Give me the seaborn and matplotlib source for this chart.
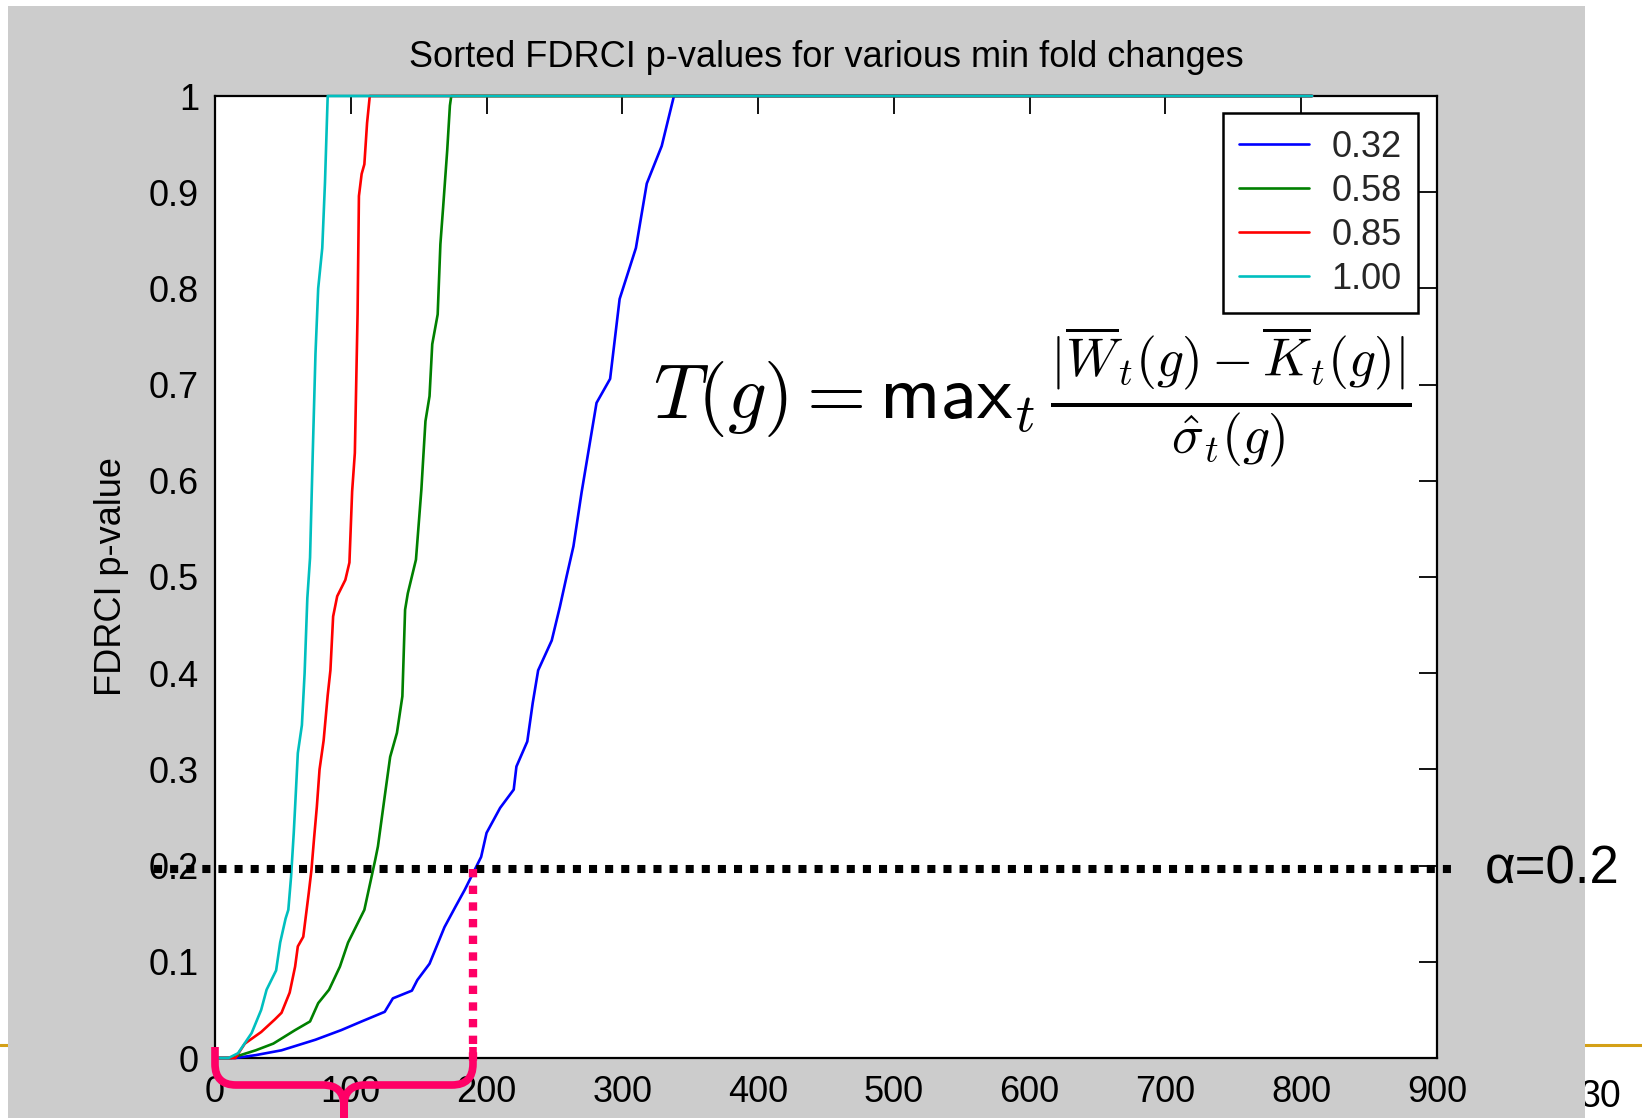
import numpy as np
import pandas as pd
import matplotlib
matplotlib.use("Agg")
import matplotlib.pyplot as plt
import seaborn as sns
from matplotlib.patches import Rectangle, PathPatch
from matplotlib.path import Path
from matplotlib.lines import Line2D

# ---------------- data ----------------
fold_levels = ["0.32", "0.58", "0.85", "1.00"]
line_colors = ["#0000FF", "#008000", "#FF0000", "#00BFBF"]

rank_032 = [0, 15, 30, 49, 74, 93, 108, 125, 131, 145, 149, 158, 169, 177, 184, 196, 200, 210, 220,
            222, 230, 234, 238, 248, 254, 259, 264, 270, 281, 291, 298, 310, 318, 329, 338, 808]
pval_032 = [0, 0, 0.003, 0.008, 0.019, 0.029, 0.038, 0.048, 0.062, 0.070, 0.081, 0.098, 0.136, 0.157, 0.175,
            0.209, 0.234, 0.260, 0.279, 0.303, 0.329, 0.369, 0.403, 0.434, 0.469, 0.501, 0.532, 0.588, 0.681,
            0.706, 0.789, 0.842, 0.909, 0.948, 1.0, 1.0]

rank_058 = [0, 12, 30, 43, 59, 70, 76, 84, 92, 98, 110, 118, 120, 125, 129, 134, 138, 140, 142, 148,
            152, 153, 155, 158, 160, 164, 166, 168, 171, 173, 174, 808]
pval_058 = [0, 0, 0.008, 0.015, 0.029, 0.038, 0.057, 0.071, 0.095, 0.120, 0.154, 0.206, 0.220, 0.272,
            0.313, 0.338, 0.376, 0.466, 0.483, 0.518, 0.591, 0.615, 0.662, 0.688, 0.742, 0.773, 0.846,
            0.884, 0.943, 0.990, 1.0, 1.0]

rank_085 = [0, 15, 22, 34, 44, 49, 55, 59, 61, 65, 69, 71, 73, 75, 77, 80, 83, 85, 87, 90, 96, 99,
            101, 103, 105, 106, 108, 110, 112, 114, 808]
pval_085 = [0, 0, 0.015, 0.027, 0.040, 0.047, 0.068, 0.095, 0.116, 0.126, 0.171, 0.195, 0.229, 0.261,
            0.300, 0.330, 0.377, 0.403, 0.459, 0.480, 0.497, 0.515, 0.589, 0.629, 0.773, 0.896, 0.919,
            0.929, 0.972, 1.0, 1.0]

rank_100 = [0, 10, 17, 27, 34, 38, 45, 48, 52, 54, 56, 58, 59, 61, 64, 66, 68, 70, 72, 74, 76, 79, 81, 83, 808]
pval_100 = [0, 0, 0.005, 0.026, 0.050, 0.071, 0.091, 0.120, 0.145, 0.154, 0.188, 0.234, 0.261, 0.317,
            0.346, 0.400, 0.478, 0.520, 0.629, 0.732, 0.800, 0.842, 0.910, 1.0, 1.0]

x_ticks = [0, 100, 200, 300, 400, 500, 600, 700, 800, 900]
y_ticks = [0, 0.1, 0.2, 0.3, 0.4, 0.5, 0.6, 0.7, 0.8, 0.9, 1.0]
y_tick_labels = ["0", "0.1", "0.2", "0.3", "0.4", "0.5", "0.6", "0.7", "0.8", "0.9", "1"]

alpha_level = 0.196       # drawn threshold line
alpha_text = "\u03b1=0.2"
cutoff_rank = 190         # where the 0.32 curve crosses alpha

title_text = "Sorted FDRCI p-values for various min fold changes"
ylabel_text = "FDRCI p-value"
formula = r"$T(g) = \mathsf{max}_t\,\frac{|\overline{W}_t(g) - \overline{K}_t(g)|}{\hat{\sigma}_t(g)}$"
page_number = "30"

# ---------------- build table ----------------
frames = []
for lvl, r, p in zip(fold_levels, [rank_032, rank_058, rank_085, rank_100],
                     [pval_032, pval_058, pval_085, pval_100]):
    frames.append(pd.DataFrame({"rank": r, "pvalue": p, "fold": lvl}))
df = pd.concat(frames, ignore_index=True)

# ---------------- figure ----------------
sns.set_theme(style="white")
plt.rcParams["font.family"] = ["Liberation Sans", "DejaVu Sans"]
plt.rcParams["mathtext.fontset"] = "cm"

FS = 26
W, H = 1642, 1118
fig = plt.figure(figsize=(W / 100, H / 100), dpi=100)
fig.patch.set_facecolor("white")

# slide decorations
fig.add_artist(Line2D([0, 1], [1 - 1045 / H] * 2, transform=fig.transFigure,
                      color="#D4A017", lw=2.2, zorder=-3))
fig.text(1621 / W, 1 - 1097 / H, page_number, ha="right", va="center",
         fontsize=27, color="black", zorder=-3)
fig.add_artist(Rectangle((7.7 / W, 0), (1585 - 7.7) / W, (H - 5.7) / H,
                         transform=fig.transFigure, facecolor="#CCCCCC",
                         edgecolor="none", zorder=-1))

ax = fig.add_axes([215 / W, 1 - 1058 / H, (1437 - 215) / W, (1058 - 96) / H])
ax.set_facecolor("white")

sns.lineplot(data=df, x="rank", y="pvalue", hue="fold", hue_order=fold_levels,
             palette=line_colors, estimator=None, sort=False, lw=1.9,
             legend=False, ax=ax)
for ln in ax.lines:
    ln.set_clip_on(False)
    ln.set_zorder(3)

ax.set_xlim(0, 900)
ax.set_ylim(0, 1)
ax.set_xticks(x_ticks)
ax.set_xticklabels([str(v) for v in x_ticks])
ax.set_yticks(y_ticks)
ax.set_yticklabels(y_tick_labels)
ax.tick_params(direction="in", length=13, width=1.3, top=True, right=True,
               labelsize=FS, colors="black")
ax.tick_params(axis="x", pad=12.5)
ax.tick_params(axis="y", pad=11.5)
for sp in ax.spines.values():
    sp.set_color("black")
    sp.set_linewidth(1.6)
    sp.set_visible(True)

ax.set_xlabel("")
ax.set_title(title_text, fontsize=FS, pad=21, color="black")
ax.set_ylabel(ylabel_text, fontsize=FS, color="black")
ax.yaxis.set_label_coords(-0.07, 0.5)

# legend
handles = [Line2D([0], [0], color=c, lw=1.9) for c in line_colors]
leg = ax.legend(handles, fold_levels, loc="upper right", bbox_to_anchor=(0.9845, 0.982),
                borderaxespad=0, fontsize=FS, handlelength=1.95, handletextpad=0.62,
                labelspacing=0.25, borderpad=0.45, fancybox=False, framealpha=1,
                edgecolor="black")
leg.get_frame().set_linewidth(1.8)
leg.set_zorder(6)

# formula
ax.text(602, 0.687, formula, fontsize=55, ha="center", va="center", color="black", zorder=5)

# alpha threshold (black dotted)
ax.axhline(alpha_level, xmin=-0.05, xmax=1.016, color="black", lw=5.8,
           dashes=(1, 1), clip_on=False, zorder=4)
ax.text(935, alpha_level, alpha_text, fontsize=38, ha="left", va="center",
        color="black", clip_on=False, zorder=5)

# pink vertical dotted at cutoff
pink = "#FF0066"
ax.plot([cutoff_rank, cutoff_rank], [alpha_level, -0.005], color=pink, lw=6,
        dashes=(1, 1), clip_on=False, zorder=5)

# pink curly brace under the selected ranks
fig.canvas.draw()
x_l = ax.transData.transform((0, 0))[0]
x_r, y0 = ax.transData.transform((cutoff_rank, 0))
x_c = (x_l + x_r) / 2
top, yh, r, bottom = y0 + 11, y0 - 27, 21, y0 - 80
verts = [(x_l, top), (x_l, yh + r), (x_l, yh), (x_l + r, yh),
         (x_c - r, yh), (x_c, yh), (x_c, yh - r), (x_c, bottom),
         (x_c, bottom), (x_c, yh - r), (x_c, yh), (x_c + r, yh),
         (x_r - r, yh), (x_r, yh), (x_r, yh + r), (x_r, top)]
codes = [Path.MOVETO, Path.LINETO, Path.CURVE3, Path.CURVE3,
         Path.LINETO, Path.CURVE3, Path.CURVE3, Path.LINETO,
         Path.MOVETO, Path.LINETO, Path.CURVE3, Path.CURVE3,
         Path.LINETO, Path.CURVE3, Path.CURVE3, Path.LINETO]
brace = PathPatch(Path(verts, codes), transform=None, facecolor="none",
                  edgecolor=pink, lw=5.5, capstyle="butt", joinstyle="round",
                  clip_on=False, zorder=7)
ax.add_artist(brace)

fig.savefig("out.png", dpi=100, facecolor=fig.get_facecolor())
